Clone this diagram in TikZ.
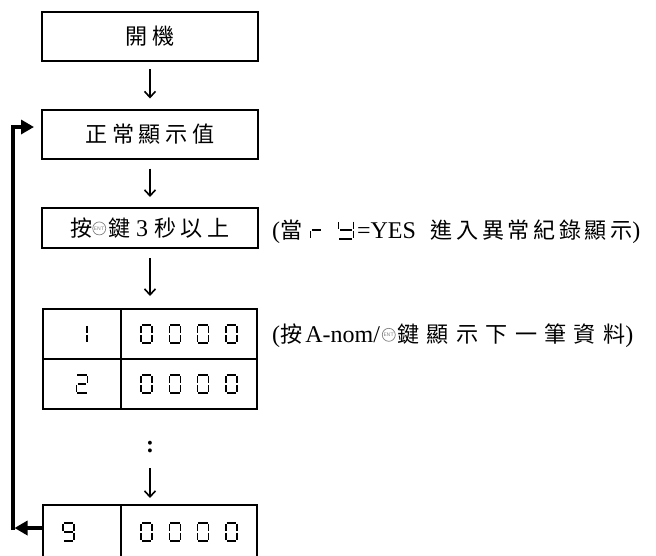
\documentclass[tikz,border=0pt]{standalone}
\usepackage{fontspec}
\setmainfont{Liberation Serif}
\newfontfamily\cjk{Noto Sans CJK TC}[Scale=0.92,LetterSpace=21]
\newfontfamily\cjknote{Noto Sans CJK TC}[Scale=0.92,LetterSpace=16]
\newfontfamily\cjkwide{Noto Sans CJK TC}[Scale=0.92,LetterSpace=33]
\usepackage{tikz}
\usetikzlibrary{arrows.meta,positioning}

% seven segment glyph, segments 1=a 2=b 3=c 4=d 5=e 6=f 7=g
\newcommand\lcd[2][1]{\tikz[baseline=0pt,x=#1pt,y=1pt,line width=1.5pt]{%
  \path (0,0) rectangle (11,18);%
  \foreach \s in {#2}{\ifcase\s\or
    \draw (0.8,18) -- (10.2,18);\or
    \draw (11,17.2) -- (11,9.8);\or
    \draw (11,8.2) -- (11,0.8);\or
    \draw (0.8,0) -- (10.2,0);\or
    \draw (0,0.8) -- (0,8.2);\or
    \draw (0,9.8) -- (0,17.2);\or
    \draw (1.2,9) -- (9.8,9);\fi}}}
\newcommand\lcdzeros{\lcd{1,2,3,4,5,6}\hspace{15.7pt}\lcd{1,2,3,4,5,6}\hspace{15.7pt}%
  \lcd{1,2,3,4,5,6}\hspace{15.7pt}\lcd{1,2,3,4,5,6}}
\newcommand\entkey{\tikz[baseline=-8pt]\node[circle,draw=gray,line width=0.7pt,inner sep=0pt,
  minimum size=13pt,text=gray,font=\fontsize{5}{5}\selectfont\sffamily]{ENT};}

\begin{document}
\begin{tikzpicture}[x=1pt,y=-1pt,
	box/.style={draw=black,line width=2pt,minimum width=216pt,minimum height=49pt,inner sep=0pt},
	cell/.style={draw=black,line width=2pt,minimum height=50pt,inner sep=0pt,outer sep=0pt},
	flow/.style={-{Straight Barb[length=6pt,width=11pt]},line width=1.6pt,shorten <=8pt,shorten >=10pt},
	back/.style={line width=4pt,-{Triangle[length=13pt,width=14pt]}},
	font=\fontsize{24}{28}\selectfont]
	\useasboundingbox (0,0) rectangle (656,555);
	\node[box] (on) at (150,36.5) {\cjk 開機};
	\node[box] (show) at (150,134) {\cjk 正常顯示值};
	\node[box,minimum height=40pt] (hold) at (150,228) {{\cjk 按}\entkey\hspace{2pt}{\cjk 鍵} 3 {\cjk 秒以上}};
	\node[cell,minimum width=78pt] (r1a) at (82,334) {\lcd{2,3}};
	\node[cell,minimum width=136pt,right=0pt of r1a] (r1b) {\lcdzeros};
	\node[cell,minimum width=78pt,below=0pt of r1a] (r2a) {\lcd{1,2,7,5,4}};
	\node[cell,minimum width=136pt,right=0pt of r2a] (r2b) {\lcdzeros};
	\node (dots) at (150,447) {\textbf{:}};
	\node[cell,minimum width=78pt,minimum height=54pt] (r9a) at (82,532) {\lcd{1,2,3,4,6,7}\hspace*{27pt}};
	\node[cell,minimum width=136pt,minimum height=54pt,right=0pt of r9a] (r9b) {\lcdzeros};
	\node[anchor=west,inner sep=0pt] (note1) at (272,232) {({\cjknote 當}\hspace{7.5pt}\lcd[1.1]{5,7}\hspace{15pt}\lcd[1.36]{2,3,4,6,7}\hspace{3pt}=YES\hspace{15pt}{\cjknote 進入異常紀錄顯示})};
	\node[anchor=west,inner sep=0pt] (note2) at (272,336) {({\cjknote 按}\hspace{3pt}A-nom/\hspace{2pt}\entkey\hspace{2pt}{\cjkwide 鍵顯示下一筆資料})};
	\coordinate (low) at (12.5,528);
	\draw[flow,shorten <=7pt] (on) -- (show);
	\draw[flow,shorten <=9pt] (show) -- (hold);
	\draw[flow,shorten <=9pt,shorten >=13pt] (hold) -- (hold.south |- r1b.north);
	\draw[flow,shorten <=21pt,shorten >=7pt] (dots.center) -- (dots.center |- r9b.north);
	\draw[back] ([yshift=4pt]r9a.west) -- ([xshift=2pt]low);
	\draw[back,shorten >=7pt] ([yshift=-2pt]low) |- ([yshift=7pt]show.west);
\end{tikzpicture}
\end{document}
